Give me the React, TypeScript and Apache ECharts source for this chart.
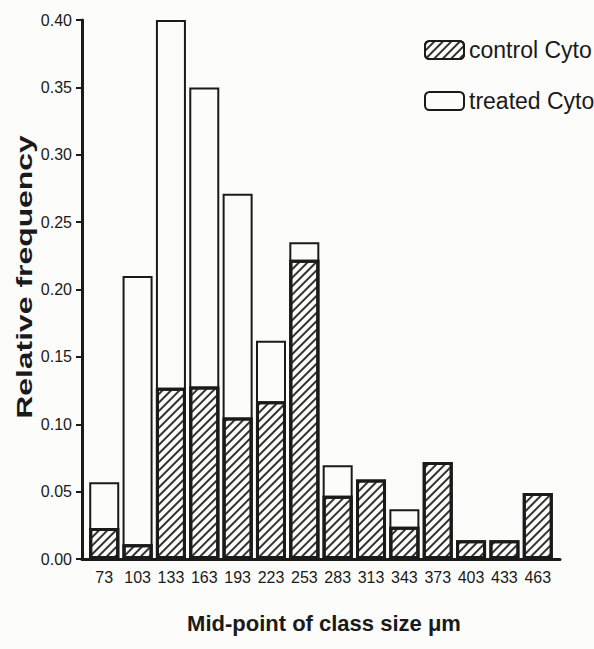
import React, { useEffect, useRef } from "react";
import * as echarts from "echarts";

const categories = [73, 103, 133, 163, 193, 223, 253, 283, 313, 343, 373, 403, 433, 463];
// control Cyto relative frequency (lower, hatched part of each bar)
const controlValues = [0.023, 0.011, 0.127, 0.128, 0.105, 0.117, 0.222, 0.047, 0.059, 0.024, 0.072, 0.014, 0.014, 0.049];
// treated Cyto relative frequency (stacked on top of control, white part)
const treatedValues: (number | null)[] = [0.034, 0.199, 0.273, 0.222, 0.166, 0.045, 0.013, 0.0225, null, 0.013, null, null, null, null];
const yTickLabels = ["0.00", "0.05", "0.10", "0.15", "0.20", "0.25", "0.30", "0.35", "0.40"];
const seriesNames = ["control Cyto", "treated Cyto"];
const xTitle = "Mid-point of class size \u03bcm";
const yTitle = "Relative frequency";

const SANS = "'Liberation Sans', Arial, sans-serif";
const INK = "#1a1a1a";
const PAPER = "#fcfcfb";

export default function App() {
  const ref = useRef<HTMLDivElement>(null);
  useEffect(() => {
    document.body.style.margin = "0";
    const chart = echarts.init(ref.current!, null, { renderer: "svg" });
    const hatch = {
      symbol: "rect",
      symbolSize: 1,
      dashArrayX: [1, 0],
      dashArrayY: [1.1, 3.3],
      rotation: -Math.PI / 4,
      color: "#333",
      backgroundColor: PAPER,
    };
    // the treated part sits on top of the control part: draw the stacked top
    const stackedTop = treatedValues.map((t, i) =>
      t == null ? [categories[i], null] : [categories[i], controlValues[i] + t]
    );
    chart.setOption({
      animation: false,
      backgroundColor: PAPER,
      grid: { left: 82, right: 34, top: 20, bottom: 90, containLabel: false, outerBoundsMode: "none" },
      legend: {
        orient: "vertical",
        left: 424,
        top: 38,
        itemWidth: 39,
        itemHeight: 18,
        itemGap: 27,
        padding: 0,
        selectedMode: false,
        data: seriesNames,
        textStyle: { fontFamily: SANS, fontSize: 23, lineHeight: 24, color: INK },
      },
      xAxis: {
        type: "value",
        min: 53,
        max: 483,
        splitLine: { show: false },
        axisTick: { show: false },
        axisLine: { show: true, lineStyle: { color: INK, width: 3 } },
        axisLabel: {
          customValues: categories,
          fontFamily: SANS,
          fontSize: 16,
          color: INK,
          margin: 10,
        },
      },
      yAxis: {
        type: "value",
        min: 0,
        max: 0.4,
        interval: 0.05,
        splitLine: { show: false },
        axisLine: { show: true, lineStyle: { color: INK, width: 3 } },
        axisTick: { show: true, length: 6, lineStyle: { color: INK, width: 2 } },
        axisLabel: {
          fontFamily: SANS,
          fontSize: 16,
          color: INK,
          margin: 10,
          formatter: (v: number) => yTickLabels[Math.round(v / 0.05)] ?? v.toFixed(2),
        },
      },
      series: [
        {
          name: seriesNames[1],
          type: "bar",
          barWidth: 30,
          barGap: "-100%",
          z: 2,
          data: stackedTop,
          itemStyle: { color: PAPER, borderColor: INK, borderWidth: 2 },
        },
        {
          name: seriesNames[0],
          type: "bar",
          barWidth: 30,
          barGap: "-100%",
          z: 3,
          data: controlValues.map((v, i) => [categories[i], v]),
          itemStyle: { color: PAPER, borderColor: INK, borderWidth: 3, decal: hatch },
        },
      ],
      graphic: [
        {
          type: "text",
          x: 24,
          y: 277,
          rotation: Math.PI / 2,
          scaleX: 1.45,
          style: {
            text: yTitle,
            fontFamily: SANS,
            fontWeight: "bold",
            fontSize: 22,
            fill: INK,
            textAlign: "center",
            textVerticalAlign: "middle",
          },
        },
        {
          type: "text",
          x: 324,
          y: 623,
          style: {
            text: xTitle,
            fontFamily: SANS,
            fontWeight: "bold",
            fontSize: 22,
            fill: INK,
            textAlign: "center",
            textVerticalAlign: "middle",
          },
        },
      ],
    });
    return () => chart.dispose();
  }, []);
  return <div ref={ref} style={{ width: 594, height: 649 }} />;
}
